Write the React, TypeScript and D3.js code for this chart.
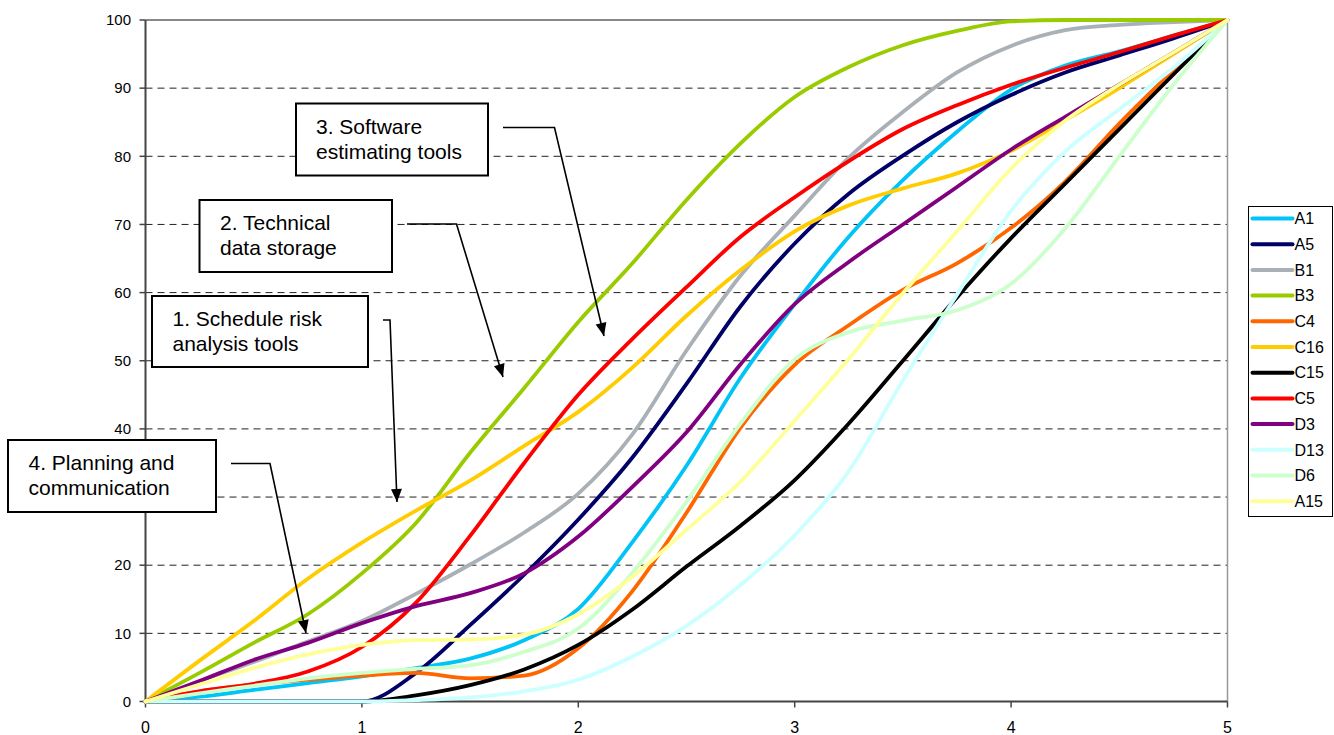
import React from "react";
import * as d3 from "d3";

const xs = [0, 0.25, 0.5, 0.75, 1, 1.25, 1.5, 1.75, 2, 2.25, 2.5, 2.75, 3, 3.25, 3.5, 3.75, 4, 4.25, 4.5, 4.75, 5];

const A1 = [0, 0.7, 1.7, 2.7, 3.7, 4.9, 6.3, 9.0, 13.6, 23.4, 34.6, 47.5, 58.3, 68.2, 76.5, 83.6, 89.8, 93.3, 95.4, 97.7, 100];
const A5 = [0, 0, 0, 0, 0, 4.2, 11.2, 18.6, 26.7, 35.8, 46.6, 58, 67.2, 74.5, 80.1, 85, 89, 92.3, 94.8, 97.3, 100];
const B1 = [0, 3, 5.8, 8.8, 11.8, 15.8, 20.1, 24.8, 30.5, 39.2, 51.5, 62.5, 71.3, 79.8, 86.5, 92.3, 96.2, 98.5, 99.3, 99.7, 100];
const B3 = [0, 4.2, 8.6, 12.8, 18.8, 26.2, 36.5, 46, 55.7, 64.3, 73.6, 81.9, 88.7, 93.1, 96.3, 98.4, 99.8, 100, 100, 100, 100];
const C4 = [0, 1.5, 2.5, 3.2, 3.8, 4.2, 3.4, 3.8, 7.8, 16.2, 27.7, 40.2, 49.4, 55.2, 60.4, 64.3, 69.5, 76.3, 84.8, 92.6, 100];
const C16 = [0, 6, 11.8, 18, 23.3, 28, 32.4, 37.5, 42.5, 49, 56.6, 63.3, 69, 72.8, 75.3, 77.5, 80.8, 85.3, 90, 95, 100];
const C15 = [0, 0, 0, 0, 0, 0.9, 2.4, 4.7, 8.3, 13.5, 19.8, 25.8, 32.5, 40.8, 50, 59.3, 68, 76, 84, 92, 100];
const C5 = [0, 1.5, 2.6, 4.4, 8, 14.5, 24.3, 35, 45, 53.2, 60.8, 68.2, 74, 79.3, 84, 87.5, 90.5, 93, 95.3, 97.7, 100];
const D3 = [0, 3, 6.1, 8.6, 11.5, 14, 15.9, 18.8, 24.2, 31.5, 39.5, 49.5, 58.3, 64.5, 70, 75.5, 81, 85.8, 90.5, 95.2, 100];
const D13 = [0, 0, 0, 0, 0, 0.2, 0.6, 1.5, 3.2, 6.6, 11.1, 17.1, 24.4, 33.8, 47.1, 59.7, 72, 80.7, 86.9, 93, 100];
const D6 = [0, 1.2, 2.3, 3.4, 4.2, 4.8, 5.3, 7.3, 10.7, 18.9, 29.3, 40.8, 50.2, 54.2, 55.9, 57.4, 61.3, 69.4, 80, 90.5, 100];
const A15 = [0, 2.5, 4.9, 6.9, 8.3, 9, 9.1, 9.8, 12.8, 18.3, 25.2, 32.3, 41.2, 50.3, 59.9, 69, 78.2, 85.2, 90.5, 95.2, 100];

const seriesNames = ["A1", "A5", "B1", "B3", "C4", "C16", "C15", "C5", "D3", "D13", "D6", "A15"];
const seriesValues = [A1, A5, B1, B3, C4, C16, C15, C5, D3, D13, D6, A15];
const seriesColors = ["#00C4F5", "#000066", "#A9B0B6", "#99CC00", "#FF6600", "#FFCC00", "#000000", "#FF0000", "#800080", "#CCFFFF", "#CCFFCC", "#FFFF99"];

const xTicks = [0, 1, 2, 3, 4, 5];
const yTicks = [0, 10, 20, 30, 40, 50, 60, 70, 80, 90, 100];

const annotations = [
  { lines: ["3. Software", "estimating tools"], box: [296, 103.5, 488, 175.5], tx: 316, ty: 134, path: [[503, 127.5], [554.5, 127.5], [604, 336]] },
  { lines: ["2. Technical", "data storage"], box: [199.5, 200, 392, 272], tx: 220, ty: 230, path: [[407, 224], [456.5, 224], [503, 377]] },
  { lines: ["1. Schedule risk", "analysis tools"], box: [152, 296, 368, 367], tx: 172.5, ty: 325.5, path: [[383, 320], [390, 320], [397, 502]] },
  { lines: ["4. Planning and", "communication"], box: [8, 440, 216, 512], tx: 28.5, ty: 469.5, path: [[231, 463.5], [270, 463.5], [306, 633]] },
];

const FONT = "'Liberation Sans', Arial, Helvetica, sans-serif";

function arrowHead(p: number[][]) {
  const a = p[p.length - 2];
  const b = p[p.length - 1];
  const dx = b[0] - a[0];
  const dy = b[1] - a[1];
  const len = Math.hypot(dx, dy);
  const ux = dx / len;
  const uy = dy / len;
  const L = 13;
  const W = 5.5;
  const bx = b[0] - ux * L;
  const by = b[1] - uy * L;
  return `${b[0]},${b[1]} ${bx - uy * W},${by + ux * W} ${bx + uy * W},${by - ux * W}`;
}

export default function App() {
  const x = d3.scaleLinear().domain([0, 5]).range([145.5, 1227.5]);
  const y = d3.scaleLinear().domain([0, 100]).range([701.5, 20]);
  const line = d3
    .line<number>()
    .x((_, i) => x(xs[i]))
    .y((v) => y(v))
    .curve(d3.curveMonotoneX);

  const legendX = 1248.5;
  const legendY = 206.5;
  const legendH = 310;
  const legendW = 84;
  const rowH = 25.7;

  return (
    <svg width={1334} height={735} style={{ position: "absolute", left: 0, top: 0, background: "#fff" }} fontFamily={FONT}>
      <rect x={0} y={0} width={1334} height={735} fill="#fff" />
      {yTicks.filter((t) => t > 0 && t < 100).map((t) => (
        <line key={"g" + t} x1={x(0)} x2={x(5)} y1={y(t)} y2={y(t)} stroke="#222" strokeWidth={1} strokeDasharray="7,5" />
      ))}
      <line x1={x(0)} x2={x(5)} y1={y(100)} y2={y(100)} stroke="#888" strokeWidth={2} />
      <line x1={x(5)} x2={x(5)} y1={y(100)} y2={y(0)} stroke="#999" strokeWidth={1.5} />
      <line x1={x(0)} x2={x(0)} y1={y(100)} y2={y(0)} stroke="#444" strokeWidth={2} />
      <line x1={x(0)} x2={x(5)} y1={y(0)} y2={y(0)} stroke="#444" strokeWidth={2} />
      {yTicks.map((t) => (
        <g key={"yt" + t}>
          <line x1={x(0) - 6} x2={x(0)} y1={y(t)} y2={y(t)} stroke="#444" strokeWidth={1.5} />
          <text x={131} y={y(t)} dy="0.35em" textAnchor="end" fontSize={15} fill="#000">{t}</text>
        </g>
      ))}
      {xTicks.map((t) => (
        <g key={"xt" + t}>
          <line x1={x(t)} x2={x(t)} y1={y(0)} y2={y(0) + 6} stroke="#444" strokeWidth={1.5} />
          <text x={x(t)} y={733} textAnchor="middle" fontSize={16} fill="#000">{t}</text>
        </g>
      ))}
      {seriesValues.map((vals, i) => (
        <path key={seriesNames[i]} d={line(vals) || ""} fill="none" stroke={seriesColors[i]} strokeWidth={3.8} strokeLinejoin="round" strokeLinecap="round" />
      ))}
      {annotations.map((a, i) => (
        <g key={"an" + i}>
          <rect x={a.box[0]} y={a.box[1]} width={a.box[2] - a.box[0]} height={a.box[3] - a.box[1]} fill="#fff" stroke="#000" strokeWidth={2} />
          {a.lines.map((l, j) => (
            <text key={j} x={a.tx} y={a.ty + j * 25} fontSize={21} fill="#000">{l}</text>
          ))}
          <polyline points={a.path.map((p) => p.join(",")).join(" ")} fill="none" stroke="#000" strokeWidth={1.6} />
          <polygon points={arrowHead(a.path)} fill="#000" />
        </g>
      ))}
      <rect x={legendX} y={legendY} width={legendW} height={legendH} fill="#fff" stroke="#000" strokeWidth={1} />
      {seriesNames.map((n, i) => {
        const cy = legendY + 12 + i * rowH;
        return (
          <g key={"lg" + n}>
            <line x1={legendX + 4} x2={legendX + 44} y1={cy} y2={cy} stroke={seriesColors[i]} strokeWidth={4} strokeLinecap="round" />
            <text x={legendX + 46} y={cy} dy="0.36em" fontSize={16} fill="#000">{n}</text>
          </g>
        );
      })}
    </svg>
  );
}
